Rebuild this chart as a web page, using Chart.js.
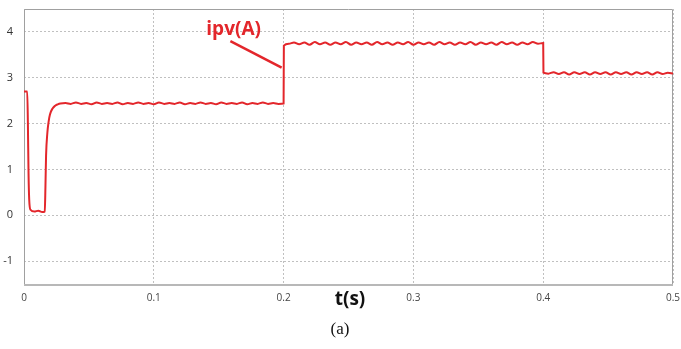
<!DOCTYPE html>
<html>
<head>
<meta charset="utf-8">
<script src="https://cdn.jsdelivr.net/npm/chart.js@4"></script>
<style>
  html, body { margin: 0; padding: 0; background: #fff; }
  #wrap { width: 681px; height: 349px; }
</style>
</head>
<body>
<div id="wrap"><canvas id="myChart" width="681" height="349"></canvas></div>
<script>
// x ticks and y ticks
const xTicks = [0, 0.1, 0.2, 0.3, 0.4, 0.5];
const xTickLabels = ['0', '0.1', '0.2', '0.3', '0.4', '0.5'];
const yTicks = [-1, 0, 1, 2, 3, 4];

// start-up transient
const startT = [0, 0.0025, 0.003, 0.0035, 0.004, 0.005, 0.008, 0.011, 0.014, 0.016, 0.0165, 0.017, 0.018, 0.019, 0.020, 0.022, 0.024, 0.026, 0.028];
const startI = [2.7, 2.7, 2.0, 0.9, 0.35, 0.12, 0.08, 0.10, 0.07, 0.08, 0.6, 1.3, 1.8, 2.05, 2.2, 2.33, 2.39, 2.42, 2.44];

// first level, ~2.44 A
const seg1T = [0.032, 0.036, 0.040, 0.044, 0.048, 0.052, 0.056, 0.060, 0.064, 0.068, 0.072, 0.076, 0.080, 0.084,
  0.088, 0.092, 0.096, 0.100, 0.104, 0.108, 0.112, 0.116, 0.120, 0.124, 0.128, 0.132, 0.136, 0.140,
  0.144, 0.148, 0.152, 0.156, 0.160, 0.164, 0.168, 0.172, 0.176, 0.180, 0.184, 0.188, 0.192, 0.196, 0.2];
const seg1I = [2.45, 2.43, 2.46, 2.43, 2.45, 2.42, 2.46, 2.43, 2.45, 2.43, 2.46, 2.42, 2.45, 2.43,
  2.46, 2.43, 2.45, 2.42, 2.46, 2.43, 2.45, 2.43, 2.46, 2.42, 2.45, 2.43, 2.46, 2.43,
  2.45, 2.42, 2.46, 2.43, 2.45, 2.43, 2.46, 2.42, 2.45, 2.43, 2.46, 2.43, 2.45, 2.43, 2.44];

// second level, ~3.75 A
const seg2T = [0.2002, 0.204, 0.208, 0.212, 0.216, 0.220, 0.224, 0.228, 0.232, 0.236, 0.240, 0.244, 0.248,
  0.252, 0.256, 0.260, 0.264, 0.268, 0.272, 0.276, 0.280, 0.284, 0.288, 0.292, 0.296, 0.300,
  0.304, 0.308, 0.312, 0.316, 0.320, 0.324, 0.328, 0.332, 0.336, 0.340, 0.344, 0.348, 0.352,
  0.356, 0.360, 0.364, 0.368, 0.372, 0.376, 0.380, 0.384, 0.388, 0.392, 0.396, 0.4];
const seg2I = [3.70, 3.74, 3.77, 3.73, 3.77, 3.72, 3.78, 3.73, 3.77, 3.72, 3.77, 3.73, 3.78,
  3.72, 3.77, 3.73, 3.77, 3.72, 3.78, 3.73, 3.77, 3.72, 3.77, 3.73, 3.78, 3.72,
  3.77, 3.73, 3.77, 3.72, 3.78, 3.73, 3.77, 3.72, 3.77, 3.73, 3.78, 3.72, 3.77,
  3.73, 3.77, 3.72, 3.78, 3.73, 3.77, 3.72, 3.77, 3.73, 3.78, 3.74, 3.76];

// third level, ~3.1 A
const seg3T = [0.4002, 0.404, 0.408, 0.412, 0.416, 0.420, 0.424, 0.428, 0.432, 0.436, 0.440, 0.444, 0.448,
  0.452, 0.456, 0.460, 0.464, 0.468, 0.472, 0.476, 0.480, 0.484, 0.488, 0.492, 0.496, 0.5];
const seg3I = [3.11, 3.09, 3.12, 3.08, 3.12, 3.07, 3.12, 3.08, 3.12, 3.07, 3.12, 3.08, 3.12,
  3.07, 3.12, 3.08, 3.12, 3.07, 3.12, 3.08, 3.12, 3.07, 3.12, 3.08, 3.11, 3.09];

const allT = startT.concat(seg1T, seg2T, seg3T);
const allI = startI.concat(seg1I, seg2I, seg3I);
const points = allT.map(function (t, i) { return { x: t, y: allI[i] }; });

const RED = '#e3262b';

// frame, annotation and captions
const extras = {
  id: 'extras',
  beforeDatasetsDraw: function (chart) {
    const c = chart.ctx, a = chart.chartArea;
    c.save();
    c.strokeStyle = '#a0a0a0';
    c.lineWidth = 1;
    c.beginPath();
    c.moveTo(a.left + 0.5, a.bottom);
    c.lineTo(a.left + 0.5, a.top + 0.5);
    c.lineTo(a.right - 0.5, a.top + 0.5);
    c.lineTo(a.right - 0.5, a.bottom);
    c.stroke();
    c.strokeStyle = '#b8b8b8';
    c.lineWidth = 2;
    c.beginPath();
    c.moveTo(a.left, a.bottom + 1);
    c.lineTo(a.right, a.bottom + 1);
    c.stroke();
    c.restore();
  },
  afterDraw: function (chart) {
    const c = chart.ctx, x = chart.scales.x, y = chart.scales.y;
    c.save();
    // annotation
    c.strokeStyle = RED;
    c.lineWidth = 2.5;
    c.beginPath();
    c.moveTo(x.getPixelForValue(0.159), y.getPixelForValue(3.8));
    c.lineTo(x.getPixelForValue(0.1985), y.getPixelForValue(3.22));
    c.stroke();
    c.fillStyle = RED;
    c.font = 'bold 19px "Open Sans"';
    c.textAlign = 'center';
    c.textBaseline = 'middle';
    c.fillText('ipv(A)', x.getPixelForValue(0.1615), y.getPixelForValue(4.06));
    // axis title
    c.fillStyle = '#111';
    c.font = 'bold 19px "Open Sans"';
    c.fillText('t(s)', 350, 300);
    c.font = '17px "Liberation Serif"';
    c.fillText('(a)', 340, 330);
    c.restore();
  }
};

const ctx = document.getElementById('myChart');
new Chart(ctx, {
  type: 'line',
  data: {
    datasets: [{
      label: 'ipv(A)',
      data: points,
      borderColor: RED,
      borderWidth: 2,
      pointRadius: 0,
      fill: false,
      cubicInterpolationMode: 'monotone'
    }]
  },
  options: {
    responsive: false,
    animation: false,
    layout: { padding: { top: 9, right: 8, left: 0, bottom: 0 } },
    plugins: { legend: { display: false }, tooltip: { enabled: false } },
    scales: {
      x: {
        type: 'linear',
        min: 0, max: 0.5,
        afterBuildTicks: function (s) { s.ticks = xTicks.map(function (v) { return { value: v }; }); },
        afterFit: function (s) { s.height = 65; s.paddingLeft = 0; s.paddingRight = 0; },
        border: { display: false, dash: [2, 2] },
        grid: { color: '#c0c0c0', lineWidth: 1, drawTicks: false },
        ticks: {
          padding: 8,
          maxRotation: 0,
          color: '#444',
          font: { family: 'Open Sans', size: 10 },
          callback: function (v) { const k = xTicks.indexOf(Math.round(v * 10) / 10); return k >= 0 ? xTickLabels[k] : ''; }
        }
      },
      y: {
        min: -1.5, max: 4.5,
        afterBuildTicks: function (s) { s.ticks = yTicks.map(function (v) { return { value: v }; }); },
        afterFit: function (s) { s.width = 24; s.paddingTop = 0; s.paddingBottom = 0; },
        border: { display: false, dash: [2, 2] },
        grid: { color: '#c0c0c0', lineWidth: 1, drawTicks: false },
        ticks: {
          padding: 11,
          color: '#333',
          font: { family: 'Open Sans', size: 11 },
          callback: function (v) { return String(v); }
        }
      }
    }
  },
  plugins: [extras]
});
</script>
</body>
</html>
